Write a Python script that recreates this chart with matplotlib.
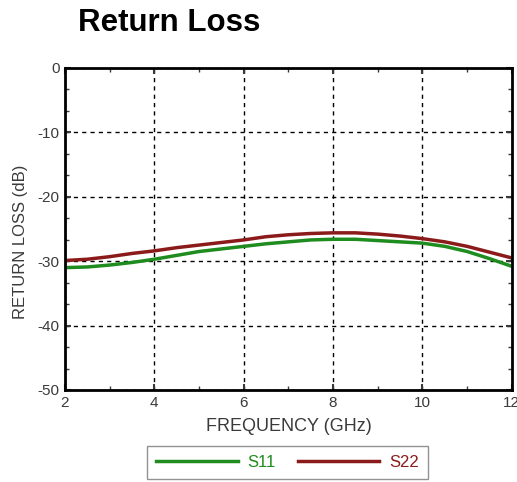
import matplotlib
matplotlib.use('Agg')
import matplotlib.pyplot as plt
from matplotlib.ticker import MultipleLocator

plt.rcParams['font.family'] = ['Liberation Sans', 'DejaVu Sans']
plt.rcParams['axes.unicode_minus'] = False

# frequency (GHz) and return loss (dB)
freq = [2, 2.5, 3, 3.5, 4, 4.5, 5, 5.5, 6, 6.5, 7, 7.5, 8, 8.5, 9, 9.5, 10, 10.5, 11, 11.5, 12]
s11 = [-31.0, -30.9, -30.6, -30.2, -29.7, -29.1, -28.5, -28.1, -27.7, -27.3, -27.0, -26.7, -26.6, -26.6, -26.8, -27.0, -27.2, -27.7, -28.5, -29.6, -30.8]
s22 = [-29.9, -29.7, -29.3, -28.8, -28.4, -27.9, -27.5, -27.1, -26.7, -26.2, -25.9, -25.7, -25.6, -25.6, -25.8, -26.1, -26.5, -27.0, -27.7, -28.6, -29.5]

green = '#1e8c1e'
red = '#8b1a1a'
txt = '#3a3a3a'

fig = plt.figure(figsize=(5.17, 4.82), dpi=100)
ax = fig.add_axes([0.1257, 0.1909, 0.8643, 0.6681])

ax.plot(freq, s11, color=green, lw=2.5, label='S11')
ax.plot(freq, s22, color=red, lw=2.5, label='S22')

ax.set_xlim(2, 12)
ax.set_ylim(-50, 0)
ax.xaxis.set_major_locator(MultipleLocator(2))
ax.xaxis.set_minor_locator(MultipleLocator(1))
ax.yaxis.set_major_locator(MultipleLocator(10))
ax.yaxis.set_minor_locator(MultipleLocator(10 / 3))
ax.tick_params(which='both', direction='in', top=True, right=True, colors=txt, labelsize=11)
ax.tick_params(which='major', length=4, width=1.5, pad=4)
ax.tick_params(which='minor', length=3, width=1)
ax.grid(True, which='major', color='black', linestyle=(0, (3, 3)), lw=1)
for sp in ax.spines.values():
    sp.set_linewidth(2)

ax.set_xlabel('FREQUENCY (GHz)', fontsize=13, color=txt, labelpad=6)
ax.set_ylabel('RETURN LOSS (dB)', fontsize=12, color=txt)
ax.yaxis.set_label_coords(-0.083, 0.46)

fig.text(0.151, 0.952, 'Return Loss', fontsize=22.5, fontweight='bold', va='center', ha='left')

leg = fig.legend(loc='center', bbox_to_anchor=(0.556, 0.961 - 0.92), ncol=2, fontsize=12,
                 frameon=True, fancybox=False, edgecolor='#777777', handlelength=4.9,
                 handletextpad=0.6, columnspacing=1.3, borderpad=0.55, borderaxespad=0)
leg.get_frame().set_linewidth(1)
for t, c in zip(leg.get_texts(), [green, red]):
    t.set_color(c)

fig.savefig('out.png', dpi=100)
